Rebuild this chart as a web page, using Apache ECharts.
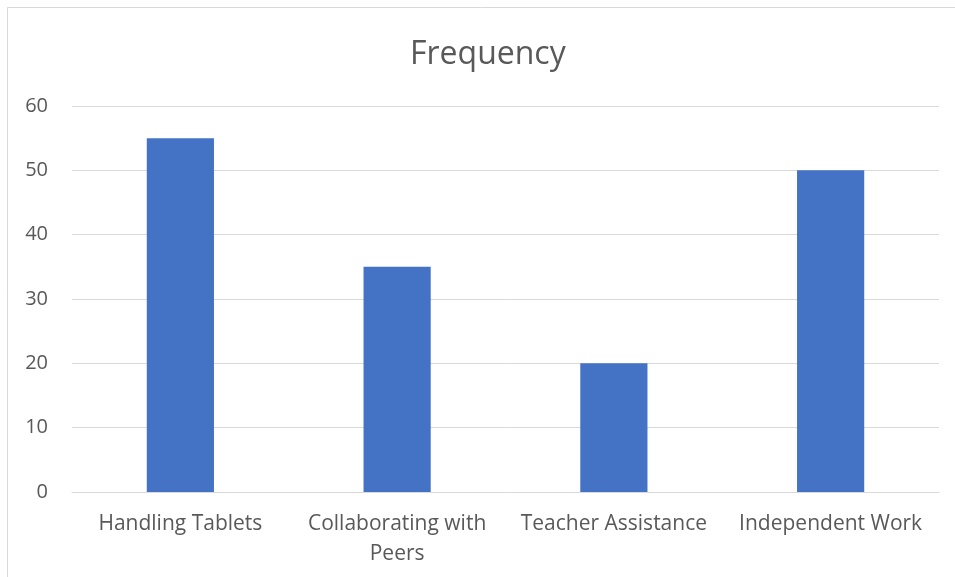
<!DOCTYPE html>
<html><head><meta charset="utf-8">
<script src="https://cdn.jsdelivr.net/npm/echarts@6/dist/echarts.min.js"></script>
<style>html,body{margin:0;padding:0;background:#fff}#c{width:955px;height:577px}</style>
</head><body><div id="c"></div>
<script>
var categories = ['Handling Tablets', 'Collaborating with\nPeers', 'Teacher Assistance', 'Independent Work'];
var values = [55, 35, 20, 50];
var yTicks = {min: 0, max: 60, interval: 10};
var chart = echarts.init(document.getElementById('c'));
var font = '"Open Sans", sans-serif';
chart.setOption({
  animation: false,
  title: {text: 'Frequency', left: 405, top: 34, textStyle: {fontFamily: font, fontSize: 32, fontWeight: 'normal', color: '#595959'}},
  graphic: [{type: 'rect', shape: {x: 7.5, y: 7.5, width: 1000, height: 1000}, style: {fill: 'none', stroke: '#d9d9d9', lineWidth: 1}, z: -1}],
  grid: {left: 72, right: 16, top: 106, bottom: 85},
  xAxis: {type: 'category', data: categories,
    axisLine: {lineStyle: {color: '#d9d9d9', width: 1}}, axisTick: {show: false},
    axisLabel: {fontFamily: font, fontSize: 21, color: '#595959', margin: 17, lineHeight: 30, interval: 0}},
  yAxis: {type: 'value', min: yTicks.min, max: yTicks.max, interval: yTicks.interval,
    axisLine: {show: false}, axisTick: {show: false},
    splitLine: {lineStyle: {color: '#d9d9d9', width: 1}},
    axisLabel: {fontFamily: font, fontSize: 20, color: '#595959', margin: 24}},
  series: [{type: 'bar', data: values, barWidth: '31%', itemStyle: {color: '#4472C4'}}]
});
</script></body></html>
